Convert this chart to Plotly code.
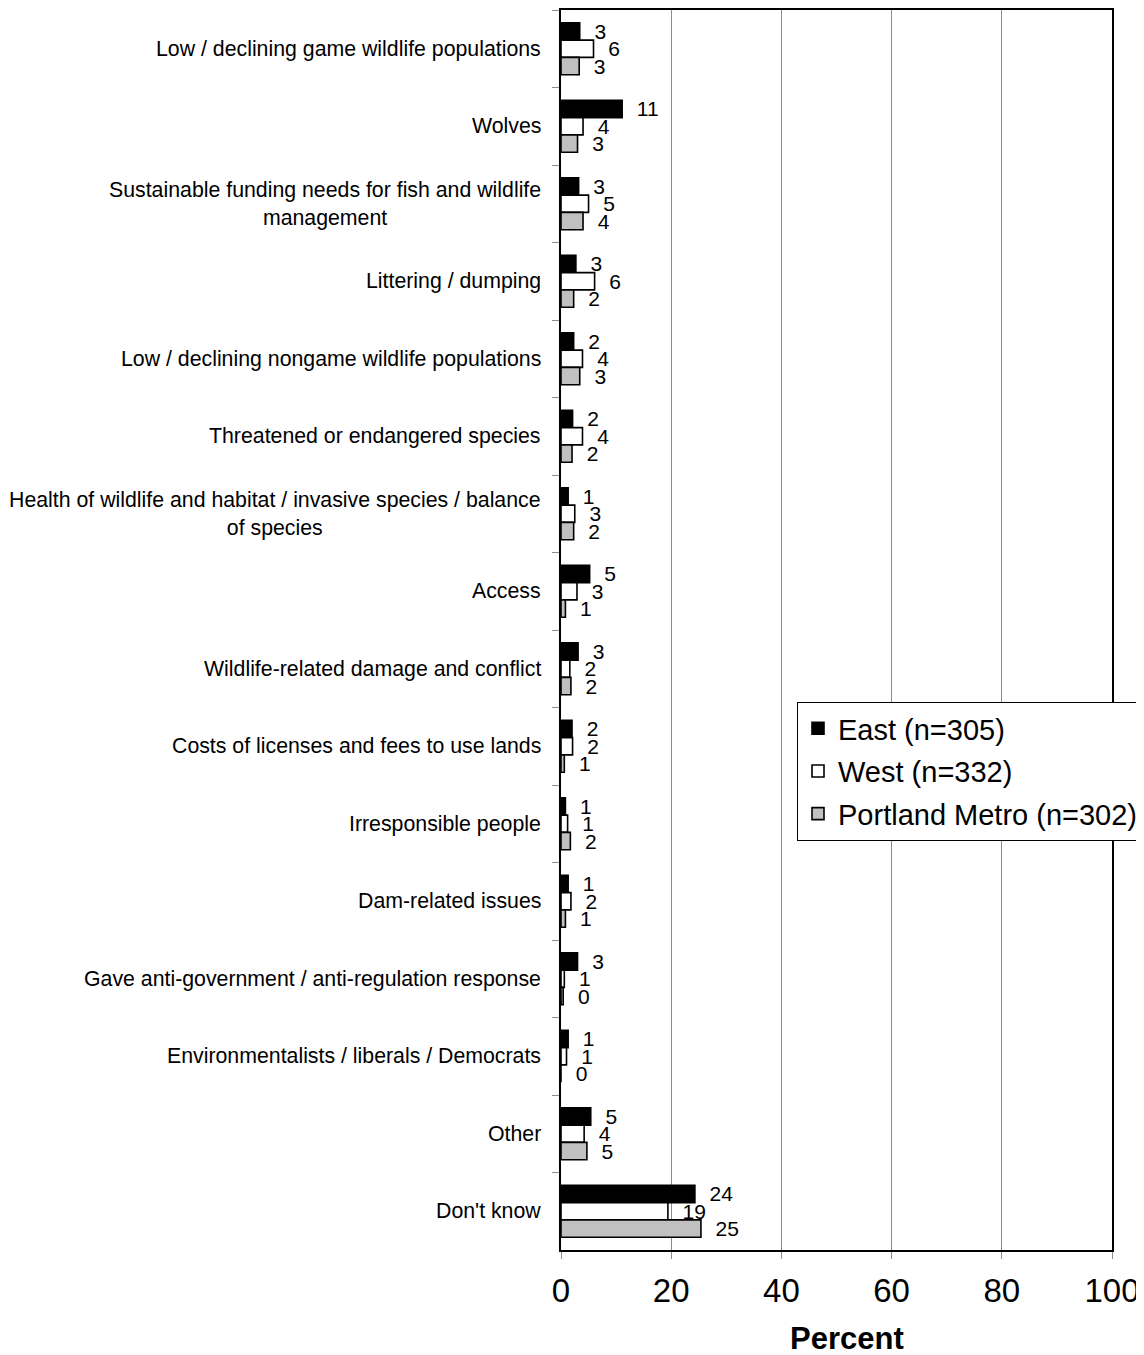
import plotly.graph_objects as go

categories = [
    "Low / declining game wildlife populations",
    "Wolves",
    "Sustainable funding needs for fish and wildlife<br>management",
    "Littering / dumping",
    "Low / declining nongame wildlife populations",
    "Threatened or endangered species",
    "Health of wildlife and habitat / invasive species / balance<br>of species",
    "Access",
    "Wildlife-related damage and conflict",
    "Costs of licenses and fees to use lands",
    "Irresponsible people",
    "Dam-related issues",
    "Gave anti-government / anti-regulation response",
    "Environmentalists / liberals / Democrats",
    "Other",
    "Don't know",
]

series_names = ["East (n=305)", "West (n=332)", "Portland Metro (n=302)"]

east_values = [3.4, 11.1, 3.2, 2.7, 2.3, 2.1, 1.3, 5.2, 3.1, 2.0, 0.8, 1.3, 3.0, 1.3, 5.4, 24.3]
west_values = [5.9, 4.0, 5.0, 6.1, 3.9, 3.9, 2.5, 2.9, 1.6, 2.1, 1.2, 1.8, 0.6, 1.0, 4.2, 19.4]
metro_values = [3.3, 3.0, 4.0, 2.3, 3.4, 2.0, 2.3, 0.8, 1.8, 0.6, 1.7, 0.8, 0.4, 0.0, 4.7, 25.4]

east_labels = [3, 11, 3, 3, 2, 2, 1, 5, 3, 2, 1, 1, 3, 1, 5, 24]
west_labels = [6, 4, 5, 6, 4, 4, 3, 3, 2, 2, 1, 2, 1, 1, 4, 19]
metro_labels = [3, 3, 4, 2, 3, 2, 2, 1, 2, 1, 2, 1, 0, 0, 5, 25]

x_ticks = [0, 20, 40, 60, 80, 100]

FONT = "Liberation Sans, Arial, Helvetica, sans-serif"
PAD = "\u00a0\u00a0"

fills = ["#000000", "#ffffff", "#c0c0c0"]
all_values = [east_values, west_values, metro_values]
all_labels = [east_labels, west_labels, metro_labels]

fig = go.Figure()
for i in range(3):
    fig.add_trace(go.Bar(
        y=categories,
        x=all_values[i],
        orientation="h",
        name=series_names[i],
        legendgroup=f"g{i}",
        marker=dict(color=fills[i], line=dict(color="#000000", width=1.6)),
        text=[PAD + str(v) for v in all_labels[i]],
        textposition="outside",
        constraintext="none",
        cliponaxis=False,
        textfont=dict(family=FONT, size=21, color="#000000"),
    ))

for c in categories:
    fig.add_annotation(
        x=0, xref="paper", y=c, yref="y",
        text=c, showarrow=False, xanchor="right", xshift=-18,
        align="center", font=dict(family=FONT, size=21.3, color="#000000"),
    )

fig.add_annotation(
    x=(847 - 561) / 551, xref="paper", y=0, yref="paper", yshift=-88,
    text="<b>Percent</b>", showarrow=False, xanchor="center", yanchor="middle",
    font=dict(family=FONT, size=31, color="#000000"),
)

fig.update_layout(
    width=1144, height=1347,
    margin=dict(l=553, r=40, t=0, b=105),
    paper_bgcolor="white", plot_bgcolor="white",
    barmode="group", bargap=0.33, bargroupgap=0.0,
    font=dict(family=FONT, color="#000000"),
    legend=dict(
        x=(797 - 561) / 551, y=(1250 - 701) / 1242, xanchor="left", yanchor="top",
        bgcolor="white", bordercolor="#000000", borderwidth=1,
        font=dict(family=FONT, size=29, color="#000000"),
        tracegroupgap=2, traceorder="grouped",
    ),
)

fig.update_xaxes(
    range=[0, 100], tickvals=x_ticks, ticktext=[str(t) for t in x_ticks],
    showgrid=True, gridcolor="#8c8c8c", gridwidth=1,
    showline=True, linecolor="#000000", linewidth=2, mirror=True,
    ticks="outside", ticklen=7, tickcolor="#8c8c8c",
    tickfont=dict(family=FONT, size=33, color="#000000"),
    ticklabelstandoff=3, zeroline=False,
)
fig.update_yaxes(
    autorange="reversed", type="category",
    showticklabels=False, showgrid=False,
    showline=True, linecolor="#000000", linewidth=2, mirror=True,
    ticks="outside", ticklen=7, tickcolor="#8c8c8c", tickson="boundaries",
)

fig.write_html("out.html")
